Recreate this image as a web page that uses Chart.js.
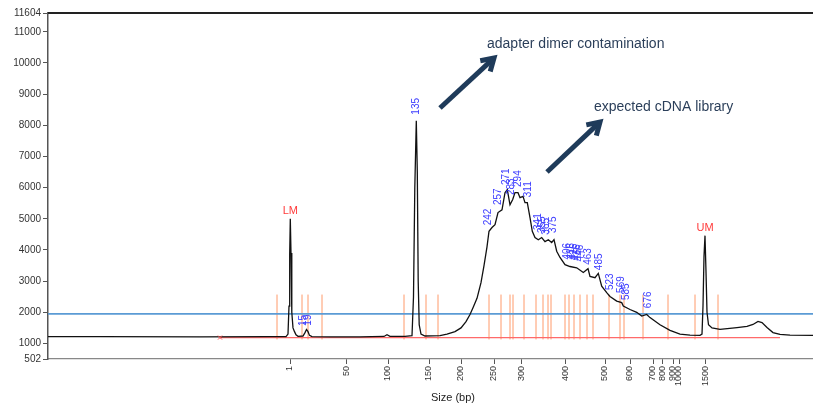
<!DOCTYPE html>
<html><head><meta charset="utf-8">
<script src="https://cdn.jsdelivr.net/npm/chart.js@4"></script>
<style>html,body{margin:0;padding:0;background:#fff}canvas{display:block}</style>
</head><body>
<canvas id="c" width="813" height="404"></canvas>
<script>
// Electropherogram trace: migration time vs fluorescence (RFU)
const traceTime = [0,5.2,15.2,22.2,23.8,24.0,24.1,24.17,24.23,24.3,24.38,24.5,24.65,24.8,25.0,25.5,25.7,25.85,26.0,26.15,26.4,28.2,31.2,33.6,33.9,34.2,35.7,36.4,36.55,36.68,36.83,36.93,37.02,37.12,37.3,37.7,39.2,39.9,40.7,41.3,41.8,42.2,42.5,42.9,43.3,43.6,43.9,44.1,44.4,44.7,45.0,45.4,45.7,45.93,46.2,46.47,46.7,47.0,47.2,47.5,47.7,47.93,48.2,48.43,48.7,49.03,49.37,49.7,50.03,50.37,50.6,50.87,51.2,51.7,52.2,52.87,53.53,54.0,54.2,54.7,55.03,55.37,55.87,56.2,56.87,57.37,57.53,58.2,58.87,59.37,59.87,60.2,61.2,62.2,63.2,64.2,65.2,65.4,65.5,65.6,65.7,65.8,65.9,66.05,66.4,67.2,68.9,69.9,70.5,71.0,71.4,71.9,72.5,73.2,74.2,76.5];
const traceRFU  = [1220,1220,1215,1220,1220,1300,2200,3850,5000,3900,2000,1500,1380,1280,1230,1240,1350,1450,1380,1260,1220,1215,1215,1225,1280,1230,1225,1250,2500,6000,8150,6500,3000,1600,1300,1240,1250,1300,1380,1500,1700,1930,2150,2450,2950,3500,4100,4600,4720,4810,5200,5290,5840,5940,5450,5620,5840,5840,5680,5720,5520,5520,5040,4600,4400,4330,4400,4270,4330,4240,4330,3960,3760,3530,3470,3430,3280,3400,3150,3110,3250,2840,2630,2510,2360,2310,2200,2090,2000,1880,1930,1830,1600,1420,1300,1270,1260,1300,2200,3800,4460,3300,2000,1600,1500,1450,1510,1550,1610,1710,1670,1510,1350,1290,1270,1260];

// Ladder (size axis)
const ladderSizes = [1,50,100,150,200,250,300,400,500,600,700,800,900,1000,1500];
const ladderTimes = [24.2,29.87,34.0,38.1,41.3,44.6,47.35,51.75,55.7,58.2,60.5,61.45,62.5,63.1,65.75];

// Y axis ticks
const yTicks = [502,1000,2000,3000,4000,5000,6000,7000,8000,9000,10000,11000,11604];

// Called peaks
const peakLabels  = ['15','19','135','242','257','271','283','294','311','341','355','365','375','406','416','426','436','446','463','485','523','569','585','676'];
const peakTimes   = [25.5,26.0,36.85,44.0,45.0,45.87,46.3,47.0,48.0,49.0,49.4,49.8,50.5,51.9,52.3,52.6,52.9,53.2,54.0,55.1,56.2,57.3,57.8,60.0];
const peakHeights = [1370,1380,8150,4600,5250,5890,5570,5830,5500,4450,4350,4300,4350,3500,3500,3480,3460,3440,3330,3160,2520,2430,2200,1940];

// Markers
const markerNames = ['LM','UM'];
const markerTimes = [24.23,65.7];
const markerHeights = [5000,4460];

// Peak region boundaries
const regionTimes = [22.9,25.4,26.0,27.4,35.6,37.8,39.0,44.1,45.3,46.2,46.5,47.6,48.8,49.5,50.0,50.3,51.7,52.1,52.6,53.2,53.9,54.5,56.1,57.2,57.6,59.5,62.0,64.7,67.0];
const regionRange = [1130,2570];

// Threshold and baseline
const thresholdRFU = 1950;
const baselineTimes = [17.2,73.2];
const baselineRFU = 1190;

// Annotations
const noteTexts = ['adapter dimer contamination','expected cDNA library'];
const noteTimes = [43.9,54.6];
const noteRFU = [10608,8587];
const arrowFrom = [[39.2,8555],[49.9,6501]];
const arrowTo   = [[44.6,10159],[55.2,8106]];

const FONT = "'Liberation Sans', Arial, sans-serif";

const tracePts = traceTime.map((t,i)=>({x:t,y:traceRFU[i]}));
const regionPts = [];
regionTimes.forEach(t=>{regionPts.push({x:t,y:regionRange[0]},{x:t,y:regionRange[1]},{x:t,y:null});});

const deco = {
  id:'deco',
  afterDatasetsDraw(chart){
    const ctx=chart.ctx, xs=chart.scales.x, ys=chart.scales.y, ca=chart.chartArea;
    ctx.save();
    // top frame
    ctx.strokeStyle='#222'; ctx.lineWidth=2;
    ctx.beginPath(); ctx.moveTo(ca.left,ca.top); ctx.lineTo(ca.right,ca.top); ctx.stroke();
    // baseline start marker
    const bx=xs.getPixelForValue(baselineTimes[0]), by=ys.getPixelForValue(baselineRFU);
    ctx.strokeStyle='#ff5050'; ctx.lineWidth=1;
    ctx.beginPath(); ctx.moveTo(bx-2,by-2); ctx.lineTo(bx+2,by+2); ctx.moveTo(bx-2,by+2); ctx.lineTo(bx+2,by-2); ctx.stroke();
    // peak labels
    ctx.fillStyle='#3d3dff'; ctx.font='10px '+FONT;
    ctx.textAlign='left'; ctx.textBaseline='middle';
    peakLabels.forEach((l,i)=>{
      const px=xs.getPixelForValue(peakTimes[i]), py=ys.getPixelForValue(peakHeights[i])-6;
      ctx.save(); ctx.translate(px,py); ctx.rotate(-Math.PI/2); ctx.fillText(l,0,0); ctx.restore();
    });
    // marker labels
    ctx.fillStyle='#ff3b3b'; ctx.font='11px '+FONT; ctx.textAlign='center'; ctx.textBaseline='alphabetic';
    markerNames.forEach((m,i)=>{
      ctx.fillText(m, xs.getPixelForValue(markerTimes[i]), ys.getPixelForValue(markerHeights[i])-5);
    });
    // annotation arrows
    ctx.strokeStyle='#1f3b5a'; ctx.lineWidth=5; ctx.lineCap='butt'; ctx.lineJoin='miter';
    arrowFrom.forEach((f,i)=>{
      const x1=xs.getPixelForValue(f[0]), y1=ys.getPixelForValue(f[1]);
      const x2=xs.getPixelForValue(arrowTo[i][0]), y2=ys.getPixelForValue(arrowTo[i][1]);
      const a=Math.atan2(y2-y1,x2-x1), L=14, w=0.55;
      ctx.beginPath(); ctx.moveTo(x1,y1); ctx.lineTo(x2-2*Math.cos(a),y2-2*Math.sin(a)); ctx.stroke();
      ctx.beginPath();
      ctx.moveTo(x2-L*Math.cos(a-w), y2-L*Math.sin(a-w));
      ctx.lineTo(x2,y2);
      ctx.lineTo(x2-L*Math.cos(a+w), y2-L*Math.sin(a+w));
      ctx.stroke();
    });
    // annotation texts
    ctx.fillStyle='#2b3f5a'; ctx.font='14px '+FONT; ctx.textAlign='left'; ctx.textBaseline='middle';
    noteTexts.forEach((t,i)=>ctx.fillText(t, xs.getPixelForValue(noteTimes[i]), ys.getPixelForValue(noteRFU[i])));
    // x axis title
    ctx.fillStyle='#222'; ctx.font='11px '+FONT; ctx.textAlign='center'; ctx.textBaseline='alphabetic';
    ctx.fillText('Size (bp)', xs.getPixelForValue(40.5), chart.height-3);
    ctx.restore();
  }
};

new Chart(document.getElementById('c'), {
  type:'line',
  data:{datasets:[
    {data:tracePts, borderColor:'#111', borderWidth:1.3, pointRadius:0, tension:0},
    {data:[{x:0,y:thresholdRFU},{x:76.5,y:thresholdRFU}], borderColor:'#5b9bd5', borderWidth:1.6, pointRadius:0},
    {data:[{x:baselineTimes[0],y:baselineRFU},{x:baselineTimes[1],y:baselineRFU}], borderColor:'#ff6a6a', borderWidth:1.2, pointRadius:0},
    {data:regionPts, borderColor:'#ff9a6a', borderWidth:1, pointRadius:0, spanGaps:false}
  ]},
  options:{
    responsive:false, animation:false, devicePixelRatio:1,
    layout:{padding:{top:13,left:0,right:0,bottom:0}},
    plugins:{legend:{display:false}, tooltip:{enabled:false}},
    scales:{
      x:{type:'linear', min:0, max:76.5,
        afterBuildTicks:s=>{s.ticks=ladderTimes.map(v=>({value:v}));},
        afterFit:s=>{s.height=45;},
        grid:{drawOnChartArea:false, drawTicks:true, tickLength:5, color:'#555'},
        border:{color:'#888', width:1.2},
        ticks:{autoSkip:false, minRotation:90, maxRotation:90, padding:2, color:'#333', font:{family:FONT,size:9},
          callback:v=>{const i=ladderTimes.indexOf(v); return i>=0?String(ladderSizes[i]):'';}}
      },
      y:{type:'linear', min:502, max:11604,
        afterBuildTicks:s=>{s.ticks=yTicks.map(v=>({value:v}));},
        afterFit:s=>{s.width=48;},
        grid:{drawOnChartArea:false, drawTicks:true, tickLength:5, color:'#555'},
        border:{color:'#555', width:1.5},
        ticks:{padding:2, color:'#333', font:{family:FONT,size:10}, callback:v=>String(v)}
      }
    }
  },
  plugins:[deco]
});
</script>
</body></html>
